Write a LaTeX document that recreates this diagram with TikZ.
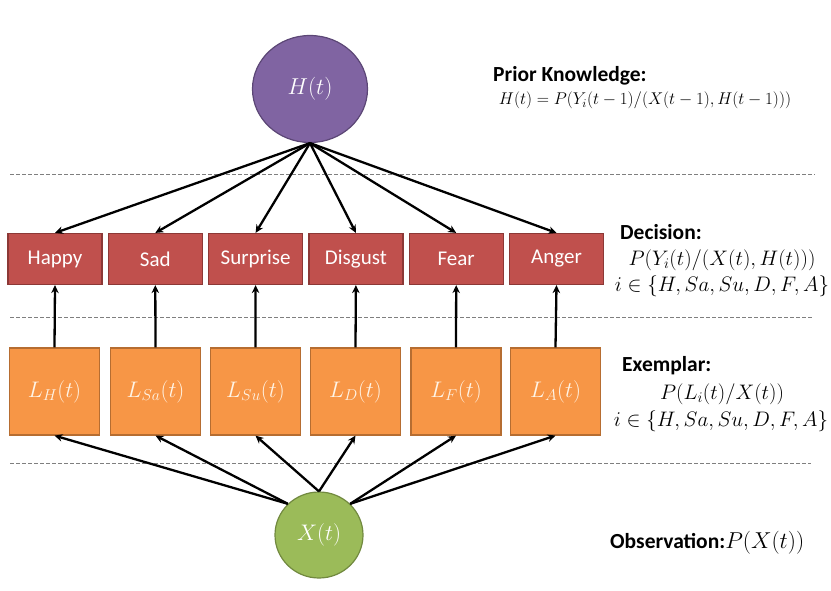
\documentclass[tikz,border=0pt]{standalone}
\usepackage{fix-cm}
\usepackage[no-math]{fontspec}
\setmainfont{Carlito}
\usetikzlibrary{arrows.meta,shapes.geometric}
\definecolor{purpleF}{HTML}{8064A2}
\definecolor{purpleD}{HTML}{5C4776}
\definecolor{redF}{HTML}{C0504D}
\definecolor{redD}{HTML}{8C3836}
\definecolor{orangeF}{HTML}{F79646}
\definecolor{orangeD}{HTML}{B66D31}
\definecolor{greenF}{HTML}{9BBB59}
\definecolor{greenD}{HTML}{71893F}
\definecolor{cream}{HTML}{FFF4E6}
\definecolor{sepgray}{HTML}{7F7F7F}
\begin{document}
\begin{tikzpicture}[x=1pt,y=-1pt,
  redbox/.style={draw=redD, fill=redF, line width=1.2pt, minimum width=94pt, minimum height=51pt, inner sep=0pt, text=white, font=\fontsize{21}{25}\selectfont},
  orbox/.style={draw=orangeD, fill=orangeF, line width=1.2pt, minimum width=90pt, minimum height=87pt, inner sep=0pt, text=cream, font=\fontsize{22.5}{27}\selectfont},
  arr/.style={line width=2.3pt, -{Stealth[length=8pt,width=7.5pt]}},
  sep/.style={draw=sepgray, line width=0.8pt, dash pattern=on 4pt off 2pt},
  lbl/.style={font=\bfseries\fontsize{21.5}{25}\selectfont, anchor=west, inner sep=0pt},
  fml/.style={font=\fontsize{21}{25}\selectfont, inner sep=0pt}
]
\useasboundingbox (0,0) rectangle (831,590);

% separators
\coordinate (s1a) at (10,174); \coordinate (s1b) at (815,174);
\coordinate (s2a) at (10,317); \coordinate (s2b) at (813,317);
\coordinate (s3a) at (10,463); \coordinate (s3b) at (811,463);
\draw[sep] (s1a) -- (s1b);
\draw[sep] (s2a) -- (s2b);
\draw[sep] (s3a) -- (s3b);

% top and bottom nodes
\node[ellipse, draw=purpleD, fill=purpleF, line width=1.2pt, minimum width=115pt, minimum height=107pt, text=white, font=\fontsize{23}{27}\selectfont] (H) at (310,89) {$H(t)$};
\node[ellipse, draw=greenD, fill=greenF, line width=1.2pt, minimum width=88pt, minimum height=86pt, text=white, font=\fontsize{22.5}{27}\selectfont] (X) at (319,535) {$X(t)$};

% decision boxes
\node[redbox] (dH) at (55,259) {Happy};
\node[redbox] (dSa) at (155.3,259) {Sad};
\node[redbox] (dSu) at (255.6,259) {Surprise};
\node[redbox] (dD) at (355.9,259) {Disgust};
\node[redbox] (dF) at (456.2,259) {Fear};
\node[redbox] (dA) at (556.5,259) {Anger};

% exemplar boxes
\node[orbox] (eH) at (54.5,391.5) {$L_H(t)$};
\node[orbox] (eSa) at (155.5,391.5) {$L_{Sa}(t)$};
\node[orbox] (eSu) at (255.5,391.5) {$L_{Su}(t)$};
\node[orbox] (eD) at (355.5,391.5) {$L_D(t)$};
\node[orbox] (eF) at (456,391.5) {$L_F(t)$};
\node[orbox] (eA) at (555.5,391.5) {$L_A(t)$};

% arrows H -> decisions
\foreach \n in {dH,dSa,dSu,dD,dF,dA} \draw[arr] (H.south) -- (\n.north);
% exemplar -> decisions
\foreach \e/\d in {eH/dH,eSa/dSa,eSu/dSu,eD/dD,eF/dF,eA/dA} \draw[arr] (\e.north) -- (\d.south);
% X -> exemplars
\draw[arr] (X.135) -- (eH.south);
\draw[arr] (X.135) -- (eSa.south);
\draw[arr] (X.north) -- (eSu.south);
\draw[arr] (X.north) -- (eD.south);
\draw[arr] (X.45) -- (eF.south);
\draw[arr] (X.45) -- (eA.south);

% texts
\node[lbl] (pk) at (493,76) {Prior Knowledge:};
\node[fml, font=\fontsize{17}{20}\selectfont] (pkf) at (645,100.5) {$H(t)=P(Y_i(t-1)/(X(t-1),H(t-1)))$};

\node[lbl] (dec) at (620,232) {Decision:};
\node[fml] (decf1) at (722,260) {$P(Y_i(t)/(X(t),H(t)))$};
\node[fml] (decf2) at (722,286) {$i\in\{H,Sa,Su,D,F,A\}$};

\node[lbl] (ex) at (622,366) {Exemplar:};
\node[fml] (exf1) at (722,394) {$P(L_i(t)/X(t))$};
\node[fml] (exf2) at (721,421) {$i\in\{H,Sa,Su,D,F,A\}$};

\node[lbl] (obs) at (610,543) {Observation:\mdseries\fontsize{23}{27}\selectfont$P(X(t))$};
\end{tikzpicture}
\end{document}
